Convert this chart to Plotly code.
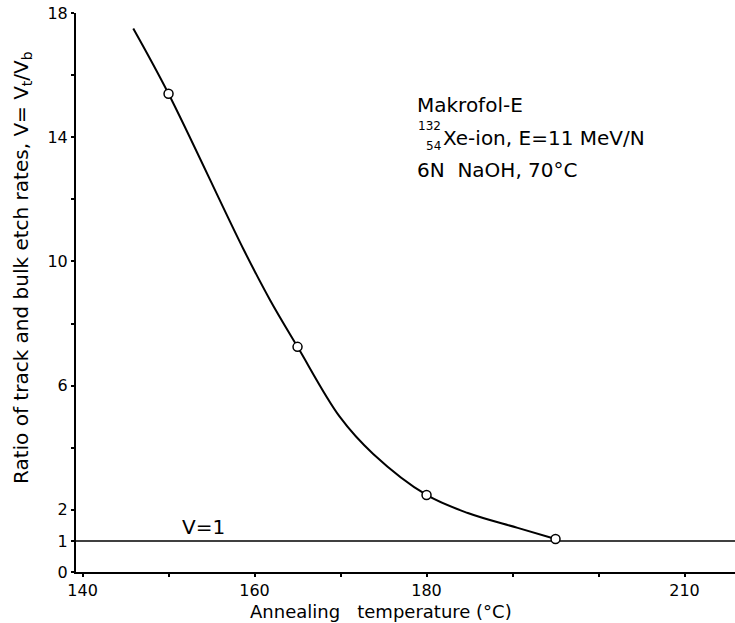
import plotly.graph_objects as go

# Measured ratio V = Vt/Vb after annealing (open circles)
anneal_temp = [150, 165, 180, 195]
ratio_meas = [15.4, 7.25, 2.48, 1.06]

# Smooth curve drawn through the measurements
curve_temp = [145.9, 150.0, 158.7, 161.8, 165.0, 169.9, 173.8, 180.0, 184.8, 190.6, 195.0]
curve_ratio = [17.5, 15.4, 10.4, 8.76, 7.25, 5.0, 3.8, 2.48, 1.90, 1.42, 1.06]

# Reference level V = 1
v_ref = 1

x_range = [139.24, 215.87]
y_range = [0, 18]

x_tickvals = [140, 160, 180, 210]
x_minor = [150, 170, 190, 200]
y_tickvals = [0, 1, 2, 6, 10, 14, 18]
y_minor = [4, 8, 12, 16]

W, H = 735, 623
ML, MR, MT, MB = 76, 0, 13, 51
FONT = "DejaVu Sans"


def paper_x(px):
    return (px - ML) / (W - ML - MR)


def paper_y(py):
    return (H - MB - py) / (H - MT - MB)


fig = go.Figure()

fig.add_trace(go.Scatter(
    x=x_range, y=[v_ref, v_ref], mode="lines",
    line=dict(color="black", width=1.5), hoverinfo="skip", showlegend=False,
))
fig.add_trace(go.Scatter(
    x=curve_temp, y=curve_ratio, mode="lines",
    line=dict(color="black", width=2, shape="spline", smoothing=1.0),
    showlegend=False,
))
fig.add_trace(go.Scatter(
    x=anneal_temp, y=ratio_meas, mode="markers",
    marker=dict(symbol="circle", size=9, color="white",
                line=dict(color="black", width=1.5)),
    showlegend=False,
))

text_font = dict(family=FONT, size=20, color="black")
small_font = dict(family=FONT, size=12, color="black")

annotations = [
    dict(text="Makrofol-E", x=paper_x(415), y=paper_y(105), font=text_font),
    dict(text="132", x=paper_x(416), y=paper_y(126), font=small_font),
    dict(text="54", x=paper_x(424), y=paper_y(146), font=small_font),
    dict(text="Xe-ion, E=11 MeV/N", x=paper_x(441), y=paper_y(138), font=text_font),
    dict(text="6N  NaOH, 70°C", x=paper_x(415), y=paper_y(170), font=text_font),
    dict(text="V=1", x=paper_x(180), y=paper_y(527), font=text_font),
]
for a in annotations:
    a.update(xref="paper", yref="paper", xanchor="left", yanchor="middle",
             showarrow=False)

# Axis titles placed as annotations for exact positioning
annotations.append(dict(
    text="Ratio of track and bulk etch rates, V= V<sub>t</sub>/V<sub>b</sub>",
    x=paper_x(22), y=paper_y(268), xref="paper", yref="paper",
    xanchor="center", yanchor="middle", textangle=-90, showarrow=False,
    font=dict(family=FONT, size=20, color="black"),
))
annotations.append(dict(
    text="Annealing   temperature (°C)",
    x=paper_x(381), y=paper_y(611), xref="paper", yref="paper",
    xanchor="center", yanchor="middle", showarrow=False,
    font=dict(family=FONT, size=18, color="black"),
))

fig.update_layout(
    width=W, height=H,
    margin=dict(l=ML, r=MR, t=MT, b=MB, pad=0),
    paper_bgcolor="white", plot_bgcolor="white",
    annotations=annotations,
    font=dict(family=FONT, size=16, color="black"),
)
axis_common = dict(
    showgrid=False, zeroline=False, showline=True, linecolor="black",
    linewidth=2, ticks="outside", ticklen=3, tickwidth=1.5, tickcolor="black",
    tickfont=dict(family=FONT, size=16, color="black"),
)
fig.update_xaxes(
    range=x_range, tickmode="array", tickvals=x_tickvals,
    ticktext=[str(v) for v in x_tickvals],
    minor=dict(tickmode="array", tickvals=x_minor, ticks="outside", ticklen=3,
               tickwidth=1.5, tickcolor="black", showgrid=False),
    **axis_common,
)
fig.update_yaxes(
    range=y_range, tickmode="array", tickvals=y_tickvals,
    ticktext=[str(v) for v in y_tickvals],
    minor=dict(tickmode="array", tickvals=y_minor, ticks="outside", ticklen=3,
               tickwidth=1.5, tickcolor="black", showgrid=False),
    **axis_common,
)

fig.write_html("out.html")
